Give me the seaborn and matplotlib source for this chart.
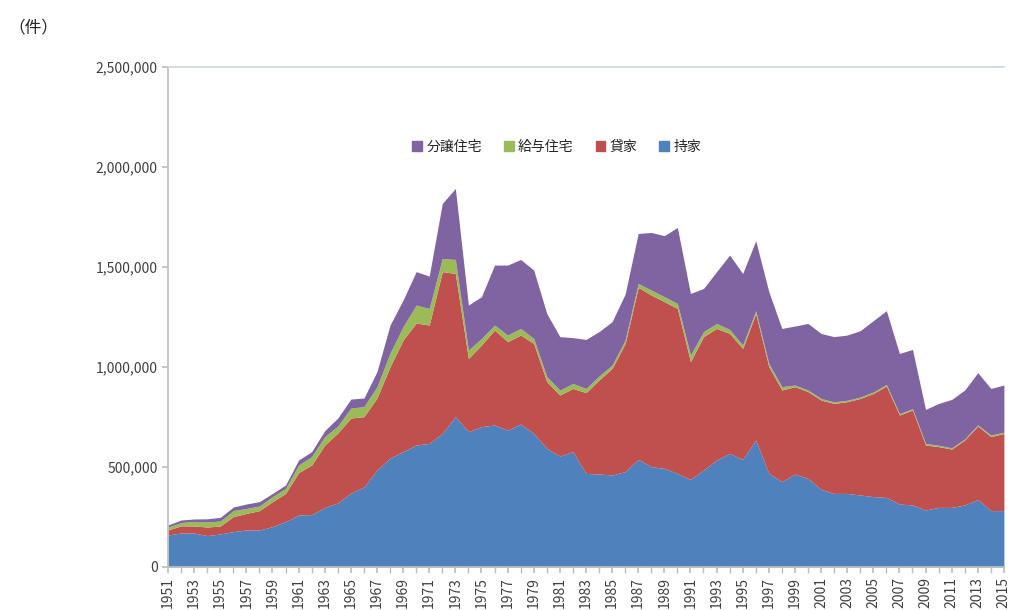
import seaborn as sns
import matplotlib.pyplot as plt
from matplotlib.patches import Patch

# housing starts by tenure, 1951-2015 (units: thousand)
years = list(range(1951, 2016))
mochiie = [160, 170, 170, 157, 165, 177, 185, 185, 202, 227,
           260, 262, 298, 320, 370, 400, 485, 545, 577, 610,
           618, 668, 752, 677, 702, 710, 685, 715, 668, 593,
           555, 577, 468, 465, 460, 477, 538, 502, 493, 468,
           438, 485, 535, 568, 538, 635, 468, 427, 465, 443,
           388, 368, 368, 360, 352, 348, 315, 310, 285, 298,
           298, 310, 338, 282, 282]
kashiya = [25, 36, 35, 43, 40, 75, 83, 97, 125, 141,
           212, 248, 312, 350, 375, 352, 360, 457, 558, 610,
           592, 809, 716, 366, 408, 475, 442, 445, 450, 334,
           305, 316, 404, 470, 533, 641, 860, 858, 834, 825,
           589, 667, 658, 600, 555, 633, 534, 458, 437, 434,
           447, 450, 459, 483, 516, 557, 445, 475, 325, 304,
           292, 325, 367, 370, 386]
kyuyo = [15, 16, 23, 25, 25, 30, 25, 23, 25, 25,
         38, 42, 42, 35, 50, 50, 57, 68, 67, 90,
         83, 66, 70, 42, 33, 25, 33, 33, 25, 25,
         25, 25, 21, 20, 17, 17, 20, 25, 25, 25,
         33, 25, 25, 20, 17, 14, 16, 17, 8, 8,
         8, 8, 7, 7, 7, 8, 7, 7, 8, 7,
         6, 6, 6, 8, 6]
bunjo = [10, 13, 12, 16, 18, 18, 22, 22, 16, 17,
         25, 25, 30, 40, 45, 43, 75, 140, 133, 167,
         162, 275, 355, 225, 209, 300, 350, 345, 342, 316,
         267, 229, 245, 222, 217, 230, 250, 288, 305, 380,
         308, 216, 259, 372, 358, 350, 359, 291, 295, 333,
         325, 326, 326, 332, 357, 369, 301, 296, 170, 209,
         242, 244, 261, 233, 236]

names = ["持家", "貸家", "給与住宅", "分譲住宅"]
colors = ["#4F81BD", "#C0504D", "#9BBB59", "#8064A2"]

sns.set_theme(style="white")
plt.rcParams["font.family"] = ["Noto Sans CJK JP", "DejaVu Sans"]

fig = plt.figure(figsize=(10.12, 6.10), dpi=100)
ax = fig.add_axes([0.166, 0.0705, 0.826, 0.8195])

series = [[v * 1000 for v in s] for s in (mochiie, kashiya, kyuyo, bunjo)]
ax.stackplot(years, *series, colors=colors, linewidth=0)

ax.set_xlim(1951, 2015)
ax.set_ylim(0, 2500000)
ax.set_yticks(range(0, 2500001, 500000))
ax.yaxis.set_major_formatter(plt.FuncFormatter(lambda v, p: f"{int(v):,}"))
ax.set_xticks(years, minor=True)
ax.set_xticks(years[::2])
ax.set_xticklabels([str(y) for y in years[::2]], rotation=90)
ax.tick_params(axis="both", labelsize=10, colors="#404040")
ax.tick_params(axis="y", length=4, color="#BFBFBF", direction="out", left=True)
ax.tick_params(axis="x", which="both", length=4, color="#BFBFBF", direction="out", bottom=True)

for s in ["left", "bottom"]:
    ax.spines[s].set_color("#BFBFBF")
ax.spines["top"].set_color("#C9D3DD")
ax.spines["top"].set_linewidth(1.2)
ax.spines["right"].set_visible(False)

handles = [Patch(color=colors[i], label=names[i]) for i in [3, 2, 1, 0]]
ax.legend(handles=handles, loc="center", bbox_to_anchor=(0.465, 0.84), ncol=4,
          frameon=False, fontsize=10, handlelength=0.7, handleheight=0.7,
          handletextpad=0.3, columnspacing=1.6)

fig.text(0.008, 0.955, "（件）", fontsize=12, va="center")

fig.savefig("out.png", dpi=100)
